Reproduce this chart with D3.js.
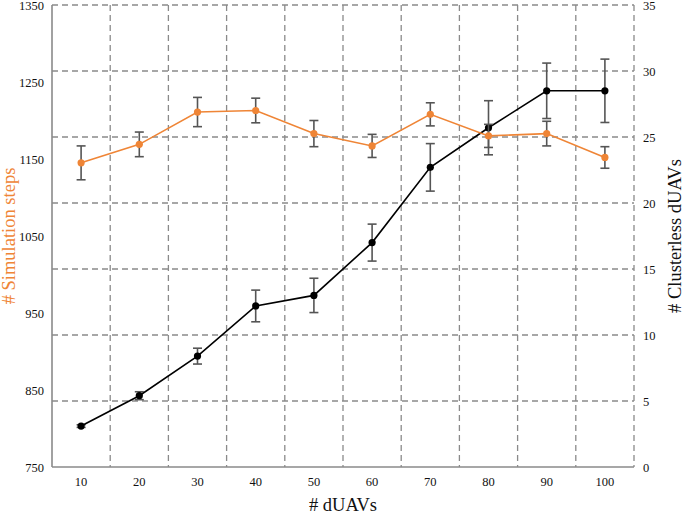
<!DOCTYPE html>
<html><head><meta charset="utf-8">
<script src="https://cdn.jsdelivr.net/npm/d3@7"></script>
<style>body{margin:0;background:#fff}svg{display:block}</style>
</head><body>
<script>
const categories = [10, 20, 30, 40, 50, 60, 70, 80, 90, 100];
const simSteps = [1145, 1169, 1211, 1213, 1183, 1167, 1208, 1180, 1183, 1152];
const simStepsErr = [22, 16, 19, 16, 17, 15, 15, 15, 16, 14];
const clusterless = [3.1, 5.4, 8.4, 12.2, 13.0, 17.0, 22.7, 25.7, 28.5, 28.5];
const clusterlessErr = [0.1, 0.3, 0.6, 1.2, 1.3, 1.4, 1.8, 2.05, 2.1, 2.4];
const leftTicks = [750, 850, 950, 1050, 1150, 1250, 1350];
const rightTicks = [0, 5, 10, 15, 20, 25, 30, 35];

const W = 685, H = 516;
const m = {left: 52, right: 51, top: 5, bottom: 49};
const orange = "#EF8536", gridC = "#8a8a8a", errC = "#555";
const font = "'Liberation Serif', 'Times New Roman', serif";

const svg = d3.select("body").append("svg").attr("width", W).attr("height", H)
  .style("font-family", font);

const x = d3.scaleBand().domain(categories).range([m.left, W - m.right]).padding(0);
const yL = d3.scaleLinear().domain([750, 1350]).range([H - m.bottom, m.top]);
const yR = d3.scaleLinear().domain([0, 35]).range([H - m.bottom, m.top]);
const cx = d => x(d) + x.bandwidth() / 2;

// grid: horizontal from right axis ticks
svg.append("g").selectAll("line").data(rightTicks.filter(t => t > 0)).join("line")
  .attr("x1", m.left).attr("x2", W - m.right)
  .attr("y1", d => yR(d)).attr("y2", d => yR(d))
  .attr("stroke", gridC).attr("stroke-width", 1.3).attr("stroke-dasharray", "6,4");
// vertical grid at band boundaries
const bounds = categories.slice(1).map(c => x(c)).concat([W - m.right]);
svg.append("g").selectAll("line").data(bounds).join("line")
  .attr("x1", d => d).attr("x2", d => d)
  .attr("y1", m.top).attr("y2", H - m.bottom)
  .attr("stroke", gridC).attr("stroke-width", 1.3).attr("stroke-dasharray", "6,4");

// axes lines
svg.append("line").attr("x1", m.left).attr("x2", m.left).attr("y1", m.top).attr("y2", H - m.bottom)
  .attr("stroke", gridC).attr("stroke-width", 1.6);
svg.append("line").attr("x1", m.left).attr("x2", W - m.right).attr("y1", H - m.bottom).attr("y2", H - m.bottom)
  .attr("stroke", gridC).attr("stroke-width", 1.6);

// left axis
const axL = svg.append("g").attr("transform", `translate(${m.left},0)`)
  .call(d3.axisLeft(yL).tickValues(leftTicks).tickFormat(d3.format("d")).tickSize(0).tickPadding(8));
axL.select(".domain").remove();
axL.selectAll("text").attr("font-size", 12.5).attr("font-family", font).attr("fill", "#111");

// right axis
const axR = svg.append("g").attr("transform", `translate(${W - m.right},0)`)
  .call(d3.axisRight(yR).tickValues(rightTicks).tickFormat(d3.format("d")).tickSize(0).tickPadding(9));
axR.select(".domain").remove();
axR.selectAll("text").attr("font-size", 12.5).attr("font-family", font).attr("fill", "#111");

// bottom axis
const axB = svg.append("g").attr("transform", `translate(0,${H - m.bottom})`)
  .call(d3.axisBottom(x).tickSize(0).tickPadding(10));
axB.select(".domain").remove();
axB.selectAll("text").attr("font-size", 12.5).attr("font-family", font).attr("fill", "#111");

// titles
svg.append("text").attr("x", (m.left + W - m.right) / 2).attr("y", 511)
  .attr("text-anchor", "middle").attr("font-size", 18.5).attr("fill", "#111").text("# dUAVs");
svg.append("text").attr("transform", `translate(15,${(m.top + H - m.bottom) / 2}) rotate(-90)`)
  .attr("text-anchor", "middle").attr("font-size", 18.5).attr("fill", orange).text("# Simulation steps");
svg.append("text").attr("transform", `translate(${W - 4},${(m.top + H - m.bottom) / 2}) rotate(-90)`)
  .attr("text-anchor", "middle").attr("font-size", 18.5).attr("fill", "#111").text("# Clusterless dUAVs");

function series(vals, errs, y, color) {
  const data = categories.map((c, i) => ({c, v: vals[i], e: errs[i]}));
  const g = svg.append("g");
  const eb = g.append("g").selectAll("g").data(data).join("g");
  eb.append("line").attr("x1", d => cx(d.c)).attr("x2", d => cx(d.c))
    .attr("y1", d => y(d.v - d.e)).attr("y2", d => y(d.v + d.e))
    .attr("stroke", errC).attr("stroke-width", 1.6);
  [-1, 1].forEach(s => {
    eb.append("line").attr("x1", d => cx(d.c) - 4.5).attr("x2", d => cx(d.c) + 4.5)
      .attr("y1", d => y(d.v + s * d.e)).attr("y2", d => y(d.v + s * d.e))
      .attr("stroke", errC).attr("stroke-width", 1.6);
  });
  g.append("path").datum(data)
    .attr("d", d3.line().x(d => cx(d.c)).y(d => y(d.v)))
    .attr("fill", "none").attr("stroke", color).attr("stroke-width", 1.6);
  g.append("g").selectAll("circle").data(data).join("circle")
    .attr("cx", d => cx(d.c)).attr("cy", d => y(d.v)).attr("r", 3.6).attr("fill", color);
}
series(clusterless, clusterlessErr, yR, "#000");
series(simSteps, simStepsErr, yL, orange);
</script>
</body></html>
